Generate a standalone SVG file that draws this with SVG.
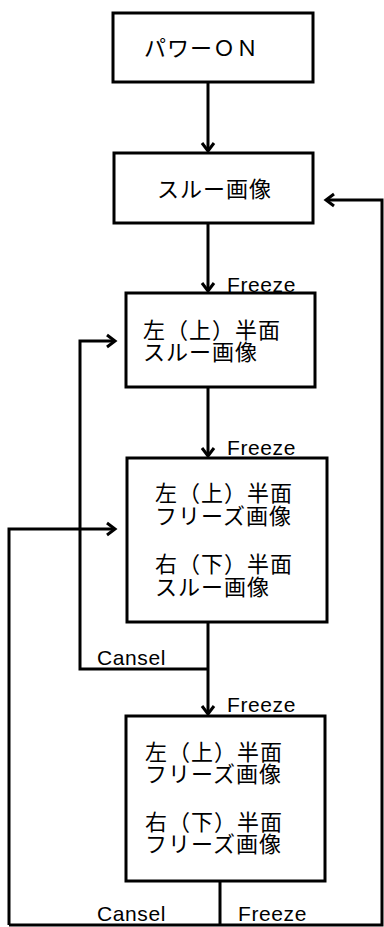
<svg xmlns="http://www.w3.org/2000/svg" width="384" height="927" viewBox="0 0 384 927">
<style>
.box{fill:#fff;stroke:#000;stroke-width:3}
.jp{font-family:"Noto Sans CJK JP","Noto Sans CJK SC",sans-serif;font-size:22px;letter-spacing:1px;fill:#000}
.lb{font-family:"Liberation Sans",Arial,sans-serif;font-size:21px;fill:#000;letter-spacing:0.6px}
.ln{fill:none;stroke:#000;stroke-width:3}
</style>
<defs>
<marker id="ah" markerUnits="userSpaceOnUse" markerWidth="20" markerHeight="20" refX="0" refY="0" viewBox="-12 -10 14 20" orient="auto">
<path d="M-8,-6 L0,0 L-8,6" fill="none" stroke="#000" stroke-width="3"/>
</marker>
</defs>
<rect width="384" height="927" fill="#fff"/>
<g id="connectors">
<path class="ln" d="M208,82 V151" marker-end="url(#ah)"/>
<path class="ln" d="M208,223 V291" marker-end="url(#ah)"/>
<path class="ln" d="M208,387 V456" marker-end="url(#ah)"/>
<path class="ln" d="M208,622 V714" marker-end="url(#ah)"/>
<path class="ln" d="M208,669 H80 V341 H115" marker-end="url(#ah)"/>
<path class="ln" d="M220,881 V925 M9,925 H382 V200 H326" marker-end="url(#ah)"/>
<path class="ln" d="M9,925 V529 H115" marker-end="url(#ah)"/>
<text class="lb" x="227" y="292">Freeze</text>
<text class="lb" x="227" y="455">Freeze</text>
<text class="lb" x="227" y="712">Freeze</text>
<text class="lb" x="97" y="665">Cansel</text>
<text class="lb" x="97" y="921">Cansel</text>
<text class="lb" x="238" y="921">Freeze</text>
</g>
<g id="power-on">
<rect class="box" x="113" y="13" width="200" height="69"/>
<text class="jp" x="144" y="56">パワーＯＮ</text>
</g>
<g id="through">
<rect class="box" x="114" y="153" width="199" height="70"/>
<text class="jp" x="157" y="197">スルー画像</text>
</g>
<g id="left-through">
<rect class="box" x="126" y="293" width="189" height="94"/>
<text class="jp" x="143" y="338">左（上）半面<tspan x="143" dy="22">スルー画像</tspan></text>
</g>
<g id="left-freeze-right-through">
<rect class="box" x="127" y="458" width="200" height="164"/>
<text class="jp" x="155" y="501">左（上）半面<tspan x="155" dy="23">フリーズ画像</tspan><tspan x="155" dy="48">右（下）半面</tspan><tspan x="155" dy="23">スルー画像</tspan></text>
</g>
<g id="both-freeze">
<rect class="box" x="126" y="716" width="199" height="165"/>
<text class="jp" x="145" y="760">左（上）半面<tspan x="145" dy="22">フリーズ画像</tspan><tspan x="145" dy="48">右（下）半面</tspan><tspan x="145" dy="22">フリーズ画像</tspan></text>
</g>
</svg>
